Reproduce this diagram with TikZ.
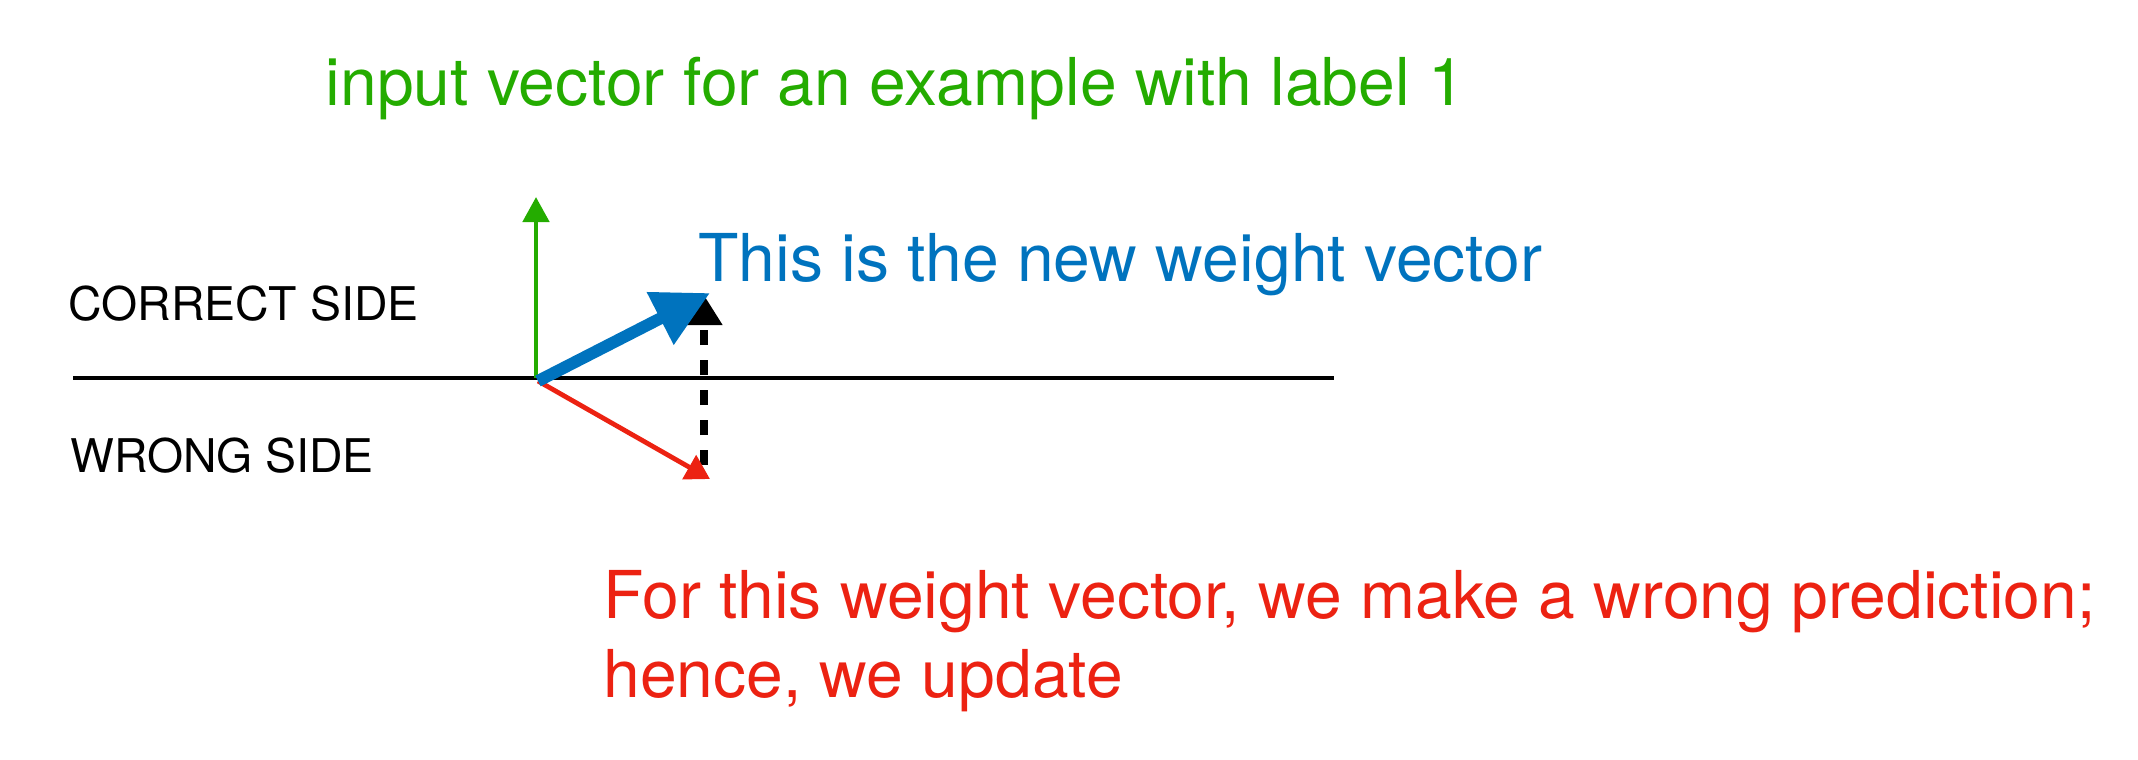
\documentclass[tikz,border=0pt]{standalone}
\usepackage{fontspec}
\setmainfont{TeX Gyre Heros}
\usetikzlibrary{arrows.meta}
\definecolor{ggreen}{RGB}{36,172,0}
\definecolor{wblue}{RGB}{0,115,190}
\definecolor{wred}{RGB}{236,34,18}
\begin{document}
\begin{tikzpicture}[x=0.5pt,y=-0.5pt,
  big/.style={font=\fontsize{33}{39.5}\selectfont, inner sep=0pt, anchor=base west, align=left},
  small/.style={font=\fontsize{23.2}{28}\selectfont, inner sep=0pt, anchor=base west},
  axisline/.style={line width=2.4pt},
  vec/.style={line width=2.4pt}]
\useasboundingbox (0,0) rectangle (2138,760);
\coordinate (L) at (73,378);
\coordinate (R) at (1334,378);
\coordinate (O) at (538,381);
\coordinate (G0) at (536,378);
\coordinate (G) at (536,197);
\coordinate (B) at (710,293);
\coordinate (Rd) at (710,479);
\coordinate (D0) at (704,465);
\coordinate (D) at (704,295);
\draw[axisline] (L) -- (R);
\draw[vec, ggreen, -{Triangle[length=12.5pt,width=13pt]}] (G0) -- (G);
\draw[line width=3.8pt, dash pattern=on 7.5pt off 7.5pt, -{Triangle[length=15pt,width=17.5pt]}] (D0) -- (D);
\draw[vec, wred, -{Triangle[length=12pt,width=13.5pt]}] (O) -- (Rd);
\draw[line width=6pt, wblue, -{Triangle[length=28pt,width=28pt]}] (O) -- (B);
\node[big, text=ggreen] (tin) at (325,105) {input vector for an example with label 1};
\node[big, text=wblue] (tnew) at (698,281) {This is the new weight vector};
\node[big, text=wred] (told) at (603,697) {For this weight vector, we make a wrong prediction;\\hence, we update};
\node[small] (tcor) at (68,320) {CORRECT SIDE};
\node[small] (twr) at (70,472) {WRONG SIDE};
\end{tikzpicture}
\end{document}
